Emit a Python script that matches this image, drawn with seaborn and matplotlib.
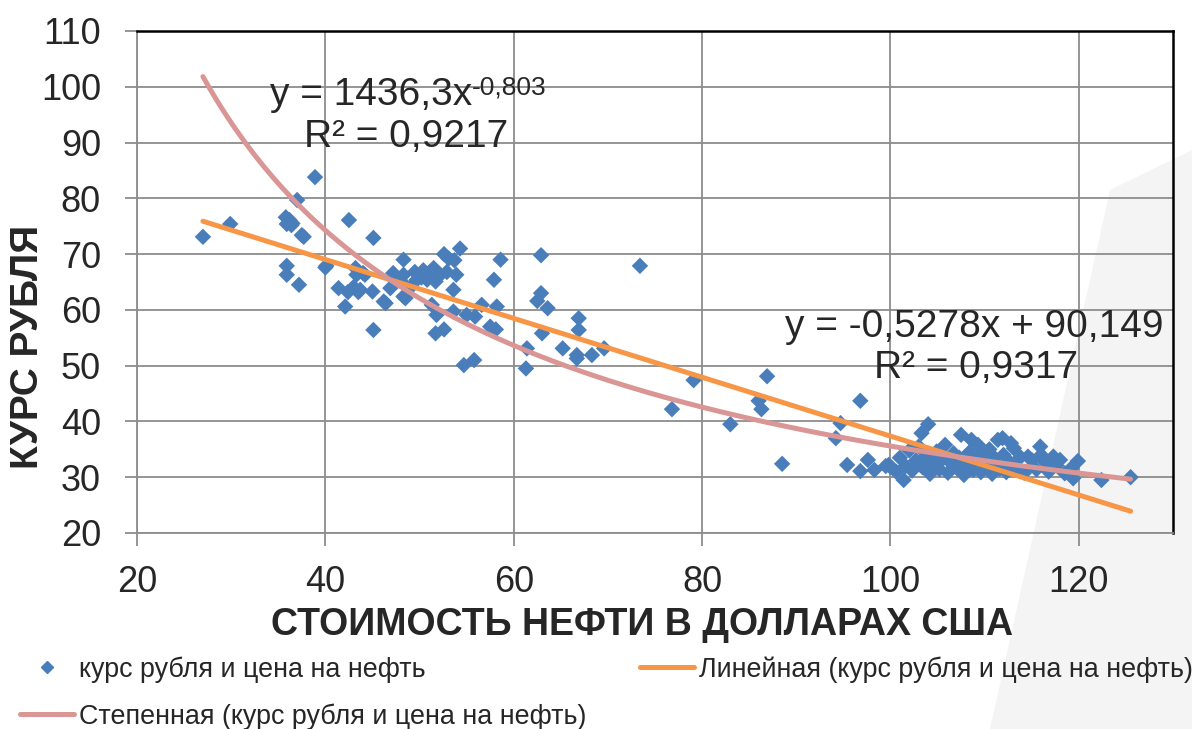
import numpy as np
import pandas as pd
import seaborn as sns
from matplotlib import pyplot as plt
from matplotlib.patches import Polygon
from matplotlib.lines import Line2D


# oil price (USD) vs ruble rate
oil = [27.0, 29.9, 35.8, 36.2, 36.5, 35.9, 36.4, 37.0, 38.9, 37.5, 37.7, 35.9, 35.9, 37.2,
       40.0, 40.1, 42.5, 45.1, 41.4, 42.4, 43.0, 43.5, 43.7, 42.1, 43.2, 43.3, 44.0, 44.2,
       45.0, 45.1, 46.4, 46.9, 48.3, 46.2,
       48.3, 52.6, 53.1, 53.7, 54.3, 58.6, 62.9,
       47.2, 48.3, 49.5, 50.4, 51.1, 52.2, 52.9, 53.9,
       49.7, 50.8, 51.7, 53.6, 57.9, 48.5, 49.0, 50.2, 51.5, 48.0,
       51.3, 51.8, 53.6, 55.0, 55.9, 56.6, 58.2,
       51.7, 52.6, 57.5, 58.1, 54.7, 55.8,
       61.4, 61.3, 62.5, 62.9, 63.6, 73.4, 66.9, 66.9, 63.0, 65.2, 66.7, 66.7, 68.3, 69.6,
       76.8, 79.1, 83.0, 86.9, 86.0, 86.3, 88.5, 94.7, 94.2, 96.8, 95.4, 96.8, 97.6, 98.3,
       99.5, 100.0,
       99.8, 101.4, 103.3, 104.0, 107.5, 108.6, 109.3, 111.4, 111.9, 112.8, 115.9, 117.3,
       118.0, 119.9, 122.4, 125.5, 119.4, 114.6, 115.0, 116.4,
       100.6, 101.0, 101.6, 102.0, 102.3, 102.7, 103.0, 103.4, 103.8, 104.2, 104.5, 104.9,
       105.2, 105.5, 105.8, 106.1, 106.4, 106.7, 107.0, 107.3, 107.8, 108.1, 108.4, 108.8,
       109.1, 109.6, 109.9, 110.2, 110.5, 110.8, 111.1, 111.6, 112.0, 112.3, 112.6, 113.1,
       113.4, 113.8, 114.2, 115.5, 116.0, 116.8, 117.6, 118.5, 119.2]
rub = [73.1, 75.4, 76.6, 76.1, 75.5, 75.4, 75.2, 79.7, 83.8, 73.4, 73.1, 67.9, 66.3, 64.5,
       67.6, 67.9, 76.1, 72.9, 63.9, 63.2, 64.1, 63.2, 63.6, 60.6, 67.5, 66.3, 66.6, 66.3,
       63.3, 56.4, 61.2, 63.9, 62.4, 61.5,
       69.0, 70.0, 69.2, 68.9, 71.0, 69.0, 69.8,
       66.6, 66.3, 66.8, 67.1, 66.8, 66.3, 66.8, 66.3,
       65.4, 65.4, 65.1, 63.6, 65.4, 62.1, 64.0, 65.8, 67.5, 65.2,
       60.9, 59.1, 59.7, 59.1, 58.8, 60.9, 60.6,
       55.8, 56.5, 57.0, 56.5, 50.1, 51.0,
       53.1, 49.5, 61.6, 63.0, 60.3, 67.9, 58.5, 56.4, 55.8, 53.1, 51.9, 51.3, 51.9, 53.1,
       42.2, 47.4, 39.5, 48.1, 43.7, 42.2, 32.4, 39.7, 37.0, 43.7, 32.2, 31.1, 33.1, 31.3,
       32.0, 31.9,
       32.2, 29.5, 37.9, 39.5, 37.6, 36.7, 35.8, 36.7, 37.0, 36.1, 35.5, 33.7,
       33.1, 32.9, 29.5, 30.0, 29.8, 33.7, 33.1, 32.8,
       31.0, 33.5, 32.0, 34.8, 31.2, 33.0, 35.5, 31.8, 33.9, 30.6, 32.5, 34.6,
       31.4, 33.2, 35.8, 30.8, 32.6, 34.3, 31.7, 33.5, 30.4, 32.2, 34.5, 31.3,
       33.0, 30.9, 34.2, 32.1, 35.0, 30.6, 33.4, 31.5, 34.0, 30.9, 32.8, 35.2,
       31.6, 33.6, 30.8, 31.4, 34.0, 31.0, 32.1, 30.7, 31.6]

# trend line coefficients as printed on the chart
lin_a, lin_b = -0.5278, 90.149
pow_a, pow_b = 1436.3, -0.803

x_ticks = [20, 40, 60, 80, 100, 120]
y_ticks = [20, 30, 40, 50, 60, 70, 80, 90, 100, 110]

df = pd.DataFrame({"oil": oil, "rub": rub})
xfit = np.linspace(df["oil"].min(), df["oil"].max(), 200)
trend = pd.DataFrame({"x": xfit,
                      "lin": lin_a * xfit + lin_b,
                      "pow": pow_a * xfit ** pow_b})

sns.set_style("white")
plt.rcParams["font.family"] = ["Liberation Sans", "DejaVu Sans"]

W, H = 1192, 729
fig = plt.figure(figsize=(W / 100, H / 100), dpi=100, facecolor="white")
# faint slide background shading on the right
fig.patches.append(Polygon([(1110 / W, 1 - 190 / H), (1, 1 - 150 / H), (1, 0), (990 / W, 0)],
                           closed=True, transform=fig.transFigure,
                           facecolor="#f4f4f4", edgecolor="none", zorder=-5))
ax = fig.add_axes([137 / W, 1 - 533 / H, (1173 - 137) / W, (533 - 31) / H])
ax.set_facecolor("none")

blue, orange, pink = "#4a7ebb", "#f79646", "#d99694"

sns.scatterplot(data=df, x="oil", y="rub", marker="D", s=70, color=blue,
                edgecolor="none", ax=ax, zorder=3, legend=False)
sns.lineplot(data=trend, x="x", y="lin", color=orange, lw=3.6, ax=ax, zorder=4)
sns.lineplot(data=trend, x="x", y="pow", color=pink, lw=3.6, ax=ax, zorder=4)

ax.set_xlim(20, 130)
ax.set_ylim(20, 110)
ax.set_xticks(x_ticks)
ax.set_yticks(y_ticks)
ax.grid(True, color="#8c8c8c", lw=1.3)
ax.set_axisbelow(True)
ax.tick_params(axis="both", direction="out", length=9, width=1.3,
               color="#8c8c8c", labelsize=26, left=True, bottom=True)
ax.tick_params(axis="y", pad=17)
ax.tick_params(axis="x", pad=14)
for s in ["left", "bottom"]:
    ax.spines[s].set_color("#8c8c8c")
    ax.spines[s].set_linewidth(1.3)
for s in ["top", "right"]:
    ax.spines[s].set_color("black")
    ax.spines[s].set_linewidth(1.8)

ax.set_xlabel("СТОИМОСТЬ НЕФТИ В ДОЛЛАРАХ США", fontsize=27, fontweight="bold")
ax.xaxis.label.set_va("center")
ax.xaxis.set_label_coords((642 - 137) / 1036, -(625 - 533) / 502)
ax.set_ylabel("КУРС РУБЛЯ", fontsize=28, fontweight="bold")
ax.yaxis.label.set_va("center")
ax.yaxis.set_label_coords(-(137 - 28) / 1036, (533 - 347) / 502)

t1 = ax.text(34.1, 98.6, "y = 1436,3x", fontsize=28, va="center", ha="left", zorder=5)
ax.annotate("-0,803", xy=(1, 1.02), xycoords=t1, va="top", ha="left", fontsize=19, zorder=5)
ax.text(48.6, 91.0, "R² = 0,9217", fontsize=28, va="center", ha="center", zorder=5)
ax.text(129.0, 56.9, "y = -0,5278x + 90,149", fontsize=28, va="center", ha="right", zorder=5)
ax.text(109.1, 49.6, "R² = 0,9317", fontsize=28, va="center", ha="center", zorder=5)

h_pts = Line2D([], [], ls="none", marker="D", ms=6, color=blue)
h_lin = Line2D([], [], color=orange, lw=3.6)
h_pow = Line2D([], [], color=pink, lw=3.6)
fig.legend([h_pts, h_pow, h_lin],
           ["курс рубля и цена на нефть", "Степенная (курс рубля и цена на нефть)",
            "Линейная (курс рубля и цена на нефть)"],
           ncol=2, loc="center left", bbox_to_anchor=(20 / W, 1 - 693 / H), frameon=False,
           fontsize=19.4, handlelength=2.0, handletextpad=0.18, columnspacing=2.0,
           labelspacing=0.75, borderpad=0, borderaxespad=0)

plt.savefig("out.png", dpi=100, facecolor=fig.get_facecolor())
